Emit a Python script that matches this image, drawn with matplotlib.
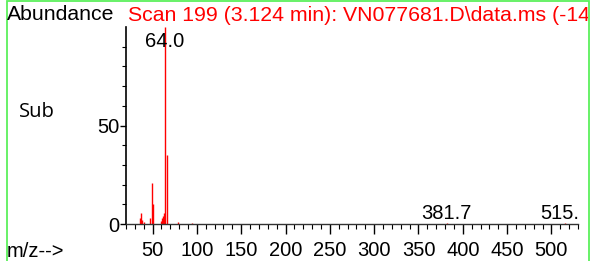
import matplotlib
matplotlib.use("Agg")
import matplotlib.pyplot as plt
from matplotlib.patches import Rectangle
from matplotlib.transforms import Bbox, TransformedBbox
from matplotlib.ticker import MultipleLocator

# spectrum peaks (m/z, relative abundance)
mz = [36, 37, 38, 40, 47, 49, 51, 60, 61, 62, 63, 64, 66, 79, 94, 381.7, 515.8]
abund = [3, 5.5, 2, 1, 3, 21, 10, 1.5, 3, 4, 5.5, 100, 35, 1.2, 0.4, 0.3, 0.3]

# labelled peaks
label_mz = [64.0, 381.7, 515.8]
label_txt = ["64.0", "381.7", "515.8"]
label_y = [90, 2.5, 2.5]

title = "Scan 199 (3.124 min): VN077681.D\\data.ms (-14"

plt.rcParams['font.family'] = ['Liberation Sans', 'DejaVu Sans']
fs = 14.5
fs_head = 15.3

W, H = 592, 261
fig = plt.figure(figsize=(W / 100, H / 100), dpi=100)
ax = fig.add_axes([126 / W, 37 / H, 452 / W, 197 / H])

ax.vlines(mz, 0, abund, color='red', linewidth=1.0)

ax.set_xlim(20, 530)
ax.set_ylim(0, 100)
for s in ['top', 'right']:
    ax.spines[s].set_visible(False)
ax.spines['left'].set_linewidth(1.2)
ax.spines['bottom'].set_linewidth(1.0)
ax.spines['bottom'].set_color('#333333')

ax.xaxis.set_major_locator(MultipleLocator(50))
ax.xaxis.set_minor_locator(MultipleLocator(10))
ax.set_yticks([0, 50])
ax.set_yticks(range(10, 100, 10), minor=True)
ax.tick_params(axis='x', which='major', length=7, width=1, pad=5, labelsize=fs)
ax.tick_params(axis='x', which='minor', length=3.5, width=0.8)
ax.tick_params(axis='y', which='major', length=4, width=1, pad=1, labelsize=fs)
ax.tick_params(axis='y', which='minor', length=3, width=0.8)

for x, t, y in zip(label_mz, label_txt, label_y):
    ax.text(x, y, t, ha='center', va='baseline', fontsize=fs, clip_on=True)

fig.text(7 / W, 1 - 19.5 / H, "Abundance", fontsize=fs_head, va='baseline', ha='left')
tt = fig.text(128 / W, 1 - 21 / H, title, fontsize=fs_head, color='red', va='baseline', ha='left')
tt.set_clip_box(TransformedBbox(Bbox([[0, 0], [588 / W, 1]]), fig.transFigure))
tt.set_clip_on(True)
fig.text(19 / W, 1 - 117 / H, "Sub", fontsize=14.5, family='Open Sans', va='baseline', ha='left')
fig.text(7 / W, 1 - 257 / H, "m/z-->", fontsize=fs, va='baseline', ha='left')

fig.patches.append(Rectangle((6.5 / W, -0.05), (588.5 - 6.5) / W, 1.05 - 0.8 / H,
                             transform=fig.transFigure, fill=False,
                             edgecolor='#5cf05c', linewidth=1.3))

fig.savefig("out.png", dpi=100)
